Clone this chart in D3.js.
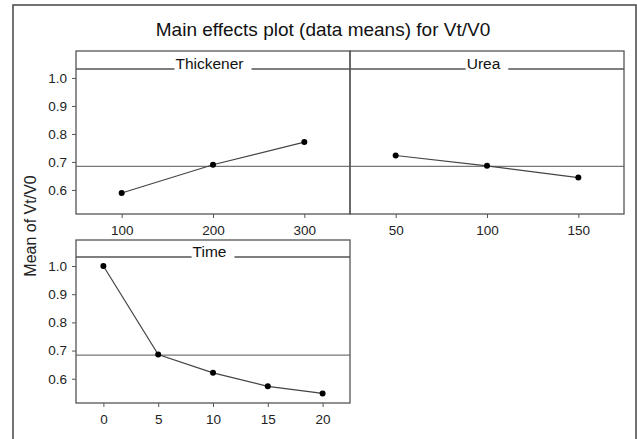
<!DOCTYPE html>
<html>
<head>
<meta charset="utf-8">
<script src="https://cdn.jsdelivr.net/npm/d3@7"></script>
<style>
  body { margin:0; padding:0; background:#fff; }
  svg { display:block; font-family:"Liberation Sans", Arial, sans-serif; }
  .axis path, .axis line { stroke:#555; }
  .axis text { font-size:13.5px; fill:#222; }
</style>
</head>
<body>
<div id="chart"></div>
<script>
// data
var title = "Main effects plot (data means) for Vt/V0";
var yLabel = "Mean of Vt/V0";
var grandMean = 0.684;
var yTicks = [0.6, 0.7, 0.8, 0.9, 1.0];

var thickLevels = [100, 200, 300];
var thickMeans  = [0.589, 0.690, 0.771];

var ureaLevels = [50, 100, 150];
var ureaMeans  = [0.723, 0.686, 0.644];

var timeLevels = [0, 5, 10, 15, 20];
var timeMeans  = [1.000, 0.686, 0.621, 0.573, 0.548];

var W = 637, H = 439;
var svg = d3.select("#chart").append("svg").attr("width", W).attr("height", H);

// outer frame (bottom runs off the image)
svg.append("rect").attr("x", 13).attr("y", 5).attr("width", 623).attr("height", 450)
  .attr("fill", "none").attr("stroke", "#444").attr("stroke-width", 1.5);

svg.append("text").attr("x", 323).attr("y", 36).attr("text-anchor", "middle")
  .style("font-size", "19px").attr("fill", "#111").text(title);

svg.append("text").attr("transform", "translate(36,226) rotate(-90)")
  .attr("text-anchor", "middle").style("font-size", "16px").attr("fill", "#222").text(yLabel);

var panels = [
  {name:"Thickener", lv:thickLevels, mu:thickMeans, dom:[50,350], x0:76, x1:350, top:51, strip:69, bottom:214, yaxis:true},
  {name:"Urea", lv:ureaLevels, mu:ureaMeans, dom:[25,175], x0:350, x1:624, top:51, strip:69, bottom:214, yaxis:false},
  {name:"Time", lv:timeLevels, mu:timeMeans, dom:[-2.5,22.5], x0:76, x1:350, top:240, strip:257, bottom:403, yaxis:true}
];

panels.forEach(function(p) {
  var x = d3.scaleLinear().domain(p.dom).range([p.x0, p.x1]);
  var y = d3.scaleLinear().domain([0.514, 1.032]).range([p.bottom, p.strip]);
  var g = svg.append("g");

  // x axis
  var xa = g.append("g").attr("class", "axis").attr("transform", "translate(0," + p.bottom + ")")
    .call(d3.axisBottom(x).tickValues(p.lv).tickSize(4).tickPadding(7).tickFormat(d3.format("d")));
  xa.select(".domain").remove();

  if (p.yaxis) {
    var ya = g.append("g").attr("class", "axis").attr("transform", "translate(" + p.x0 + ",0)")
      .call(d3.axisLeft(y).tickValues(yTicks).tickSize(4).tickPadding(5).tickFormat(d3.format(".1f")));
    ya.select(".domain").remove();
  }

  // reference line at the grand mean
  g.append("line").attr("x1", p.x0).attr("x2", p.x1).attr("y1", y(grandMean)).attr("y2", y(grandMean))
    .attr("stroke", "#777").attr("stroke-width", 1.2);

  // means
  var pts = p.lv.map(function(v, i) { return [v, p.mu[i]]; });
  g.append("path").datum(pts)
    .attr("d", d3.line().x(function(d) { return x(d[0]); }).y(function(d) { return y(d[1]); }))
    .attr("fill", "none").attr("stroke", "#444").attr("stroke-width", 1.2);
  g.selectAll("circle").data(pts).enter().append("circle")
    .attr("cx", function(d) { return x(d[0]); }).attr("cy", function(d) { return y(d[1]); })
    .attr("r", 3).attr("fill", "#000");

  // panel box + strip line
  g.append("rect").attr("x", p.x0).attr("y", p.top).attr("width", p.x1 - p.x0).attr("height", p.bottom - p.top)
    .attr("fill", "none").attr("stroke", "#555").attr("stroke-width", 1.3);
  g.append("line").attr("x1", p.x0).attr("x2", p.x1).attr("y1", p.strip).attr("y2", p.strip)
    .attr("stroke", "#555").attr("stroke-width", 1.3);

  // strip label, breaking the strip line
  var cx = (p.x0 + p.x1) / 2;
  var lab = g.append("text").attr("y", p.strip).style("font-size", "15.5px").attr("fill", "#111").text(p.name);
  var tw = lab.node().getComputedTextLength();
  var bw = tw + 9;
  g.insert("rect", function() { return lab.node(); })
    .attr("x", cx - bw / 2).attr("y", p.strip - 3).attr("width", bw).attr("height", 6).attr("fill", "#fff");
  lab.attr("x", cx - bw / 2 + 1);
});
</script>
</body>
</html>
